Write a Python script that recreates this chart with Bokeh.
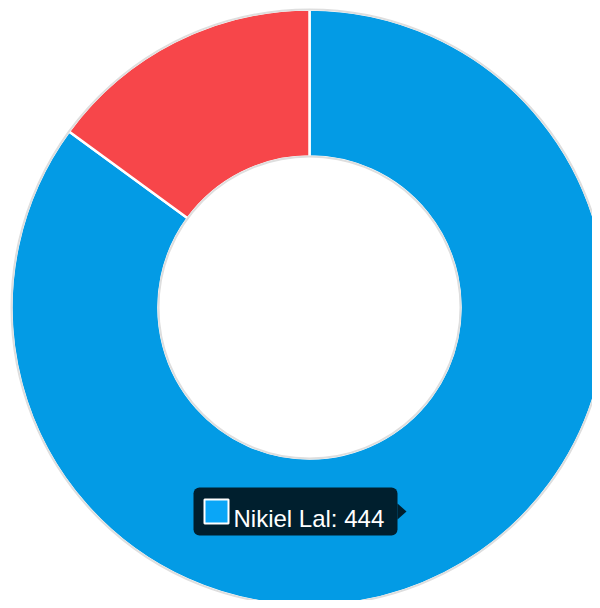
import math
from bokeh.plotting import figure
from bokeh.models import Range1d, ColumnDataSource, BoxAnnotation
from bokeh.core.properties import value
from bokeh.embed import file_html
from bokeh.resources import INLINE

# ---- data ----
labels = ["Nikiel Lal", "Other"]
values = [444, 78]
colors = ["#039be5", "#f7464a"]
tooltip_index = 0
tooltip_swatch = "#0aa6f7"

# ---- layout ----
W, H = 592, 600
p = figure(width=W, height=H, output_backend="svg", toolbar_location=None,
           x_range=Range1d(0, W), y_range=Range1d(8, 8 + H), min_border=0,
           background_fill_color="white", border_fill_color="white")
p.axis.visible = False
p.grid.visible = False
p.outline_line_color = None

cx, cy = 309, 301
r_out, r_in = 298, 151

total = sum(values)
starts, ends = [], []
acc = 0.0
for v in values:
    starts.append(math.pi / 2 - acc / total * 2 * math.pi)
    acc += v
    ends.append(math.pi / 2 - acc / total * 2 * math.pi)

src = ColumnDataSource(dict(start=starts, end=ends, color=colors,
                            label=labels, value=values))
p.annular_wedge(x=cx, y=cy, inner_radius=r_in, outer_radius=r_out,
                start_angle="start", end_angle="end", direction="clock",
                fill_color="color", line_color="white", line_width=2.5,
                source=src)
# soft grey rim on outer and inner edges
p.circle(x=[cx, cx], y=[cy, cy], radius=[r_out, r_in], fill_color=None,
         line_color="#dedede", line_width=2)

# ---- tooltip ----
bx0, bx1, by0, by1 = 193, 397, 73, 121
p.add_layout(BoxAnnotation(left=bx0, right=bx1, bottom=by0, top=by1,
                           fill_color="black", fill_alpha=0.8, line_color=None,
                           border_radius=6))
ymid = (by0 + by1) / 2
p.patch(x=[bx1, bx1 + 9, bx1], y=[ymid + 8, ymid, ymid - 8],
        fill_color="black", fill_alpha=0.8, line_color=None)
p.rect(x=bx0 + 23, y=ymid, width=24, height=24, fill_color=tooltip_swatch,
       line_color="white", line_width=2, level="overlay")
p.text(x=[bx0 + 40], y=[ymid - 7],
       text=[f"{labels[tooltip_index]}: {values[tooltip_index]}"],
       text_color="white", text_font=value("Liberation Sans"),
       text_font_size="24px", text_baseline="alphabetic", text_align="left",
       level="overlay")

open("out.html", "w").write(file_html(p, INLINE))
